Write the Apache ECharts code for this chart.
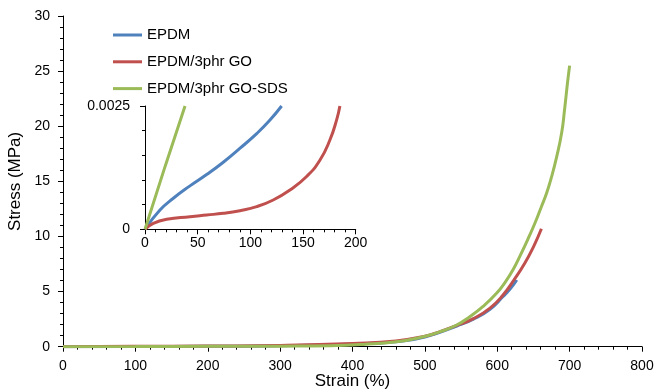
<!DOCTYPE html>
<html>
<head>
<meta charset="utf-8">
<script src="https://cdn.jsdelivr.net/npm/echarts@6/dist/echarts.min.js"></script>
<style>
html,body{margin:0;padding:0;background:#fff;}
#c{width:657px;height:392px;}
</style>
</head>
<body>
<div id="c"></div>
<script>
// ---- Data (strain %, stress MPa) ----
const seriesNames = ['EPDM', 'EPDM/3phr GO', 'EPDM/3phr GO-SDS'];
const mainXTicks = [0, 100, 200, 300, 400, 500, 600, 700, 800];
const mainYTicks = [0, 5, 10, 15, 20, 25, 30];
const insetXTicks = [0, 50, 100, 150, 200];
const insetYTicks = [0, 0.0025];

const epdmMain = [[0,0],[100,0.02],[200,0.04],[300,0.08],[400,0.25],[460,0.45],[500,0.88],[545,1.9],[567,2.5],[590,3.4],[608,4.55],[618,5.25],[627,6.05]];
const goMain = [[0,0],[100,0.03],[200,0.06],[300,0.12],[400,0.3],[460,0.52],[500,0.95],[520,1.35],[545,1.95],[567,2.55],[590,3.5],[608,4.69],[623,6.05],[638,7.57],[651,9.2],[661,10.7]];
const sdsMain = [[0,0],[100,0.01],[200,0.03],[300,0.05],[369,0.09],[415,0.21],[461,0.45],[498,0.91],[521,1.36],[544,1.97],[562,2.72],[580,3.63],[599,4.84],[612,5.95],[622,7.0],[632,8.3],[642,9.7],[652,11.2],[661,12.7],[668,13.9],[675,15.4],[682,17.2],[689,19.4],[693,21.5],[697,23.9],[700,25.5]];

const epdmInset = [[0,0],[14.2,0.00039],[26.9,0.00063],[42.7,0.00088],[58.5,0.00111],[74.3,0.00136],[90,0.00164],[106,0.00194],[118,0.0022],[129.7,0.0025]];
const goInset = [[0,0],[7.9,0.00012],[20.6,0.000203],[42.7,0.000256],[58.5,0.00029],[74.3,0.000324],[90.1,0.000378],[106,0.000459],[121.7,0.000594],[137.6,0.000797],[153.4,0.00107],[166,0.0014],[175.5,0.00181],[181.9,0.00222],[185,0.0025]];
const sdsInset = [[0,0],[19,0.00127],[38,0.0025]];

const colors = ['#4F81BD', '#C0504D', '#9BBB59'];
const FONT = "'Liberation Sans', Arial, sans-serif";

function axisCommon(extra, labelMargin) {
  return Object.assign({
    axisLine: {show: true, onZero: false, lineStyle: {color: '#000', width: 1}},
    axisTick: {show: true, inside: false, length: 5, lineStyle: {color: '#000'}},
    minorTick: {show: true, splitNumber: 5, length: 3, lineStyle: {color: '#000'}},
    splitLine: {show: false},
    axisLabel: {color: '#000', fontFamily: FONT, fontSize: 14, margin: labelMargin}
  }, extra);
}

function line(name, data, xi, yi, ci) {
  return {
    name: name, type: 'line', data: data, xAxisIndex: xi, yAxisIndex: yi,
    showSymbol: false, symbol: 'none', smooth: 0.5, clip: true,
    lineStyle: {color: colors[ci], width: 3},
    itemStyle: {color: colors[ci]},
    animation: false
  };
}

const chart = echarts.init(document.getElementById('c'), null, {renderer: 'canvas'});
chart.setOption({
  backgroundColor: '#fff',
  animation: false,
  textStyle: {fontFamily: FONT},
  legend: {
    data: seriesNames,
    orient: 'vertical',
    left: 113, top: 27.5, padding: 0,
    itemWidth: 29, itemHeight: 3, itemGap: 11.8,
    icon: 'rect',
    textStyle: {fontFamily: FONT, fontSize: 15, color: '#000'},
    selectedMode: false
  },
  grid: [
    {left: 63, right: 15, top: 16, bottom: 45.3, containLabel: false, outerBoundsMode: 'none'},
    {left: 145, right: 301.3, top: 106, bottom: 162.7, containLabel: false, outerBoundsMode: 'none'}
  ],
  xAxis: [
    axisCommon({gridIndex: 0, type: 'value', min: mainXTicks[0], max: mainXTicks[mainXTicks.length-1], interval: 100,
      name: 'Strain (%)', nameLocation: 'middle', nameGap: 26, nameMoveOverlap: false,
      nameTextStyle: {fontFamily: FONT, fontSize: 17, color: '#000'}}, 12),
    axisCommon({gridIndex: 1, type: 'value', min: insetXTicks[0], max: insetXTicks[insetXTicks.length-1], interval: 50}, 7)
  ],
  yAxis: [
    axisCommon({gridIndex: 0, type: 'value', min: mainYTicks[0], max: mainYTicks[mainYTicks.length-1], interval: 5,
      name: 'Stress (MPa)', nameLocation: 'middle', nameGap: 37,
      nameTextStyle: {fontFamily: FONT, fontSize: 17, color: '#000'}}, 13),
    axisCommon({gridIndex: 1, type: 'value', min: insetYTicks[0], max: insetYTicks[1], interval: 0.0025,
      axisLabel: {color: '#000', fontFamily: FONT, fontSize: 14, margin: 15,
        formatter: function (v) { return v === 0 ? '0' : String(v); }}}, 15)
  ],
  series: [
    line(seriesNames[0], epdmMain, 0, 0, 0),
    line(seriesNames[1], goMain, 0, 0, 1),
    line(seriesNames[2], sdsMain, 0, 0, 2),
    line(seriesNames[0], epdmInset, 1, 1, 0),
    line(seriesNames[1], goInset, 1, 1, 1),
    line(seriesNames[2], sdsInset, 1, 1, 2)
  ]
});
</script>
</body>
</html>
